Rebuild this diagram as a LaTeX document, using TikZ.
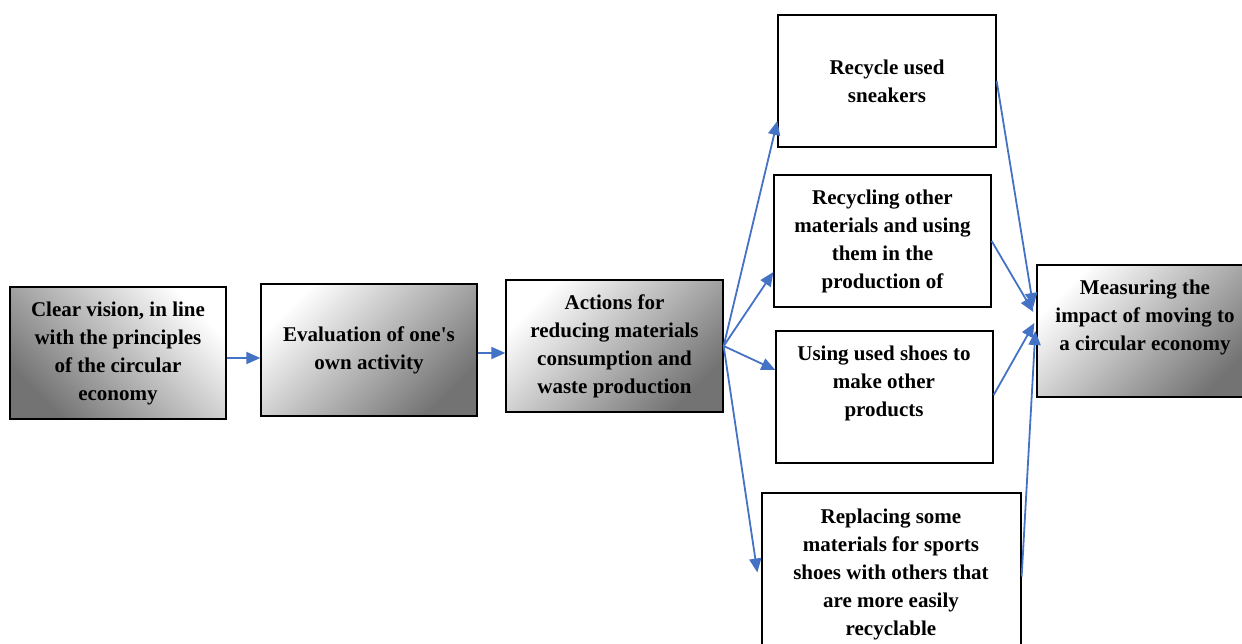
\documentclass[tikz,border=0pt]{standalone}
\usepackage{fontspec}
\setmainfont{Liberation Serif}
\usetikzlibrary{arrows.meta}
\definecolor{linkblue}{HTML}{4472C4}

\begin{document}
\begin{tikzpicture}[x=1pt, y=-1pt,
  box/.style={draw, line width=1.3pt, minimum width=216pt, minimum height=132pt, inner sep=0pt},
  shaded/.style={top color=white, middle color=black!16, bottom color=black!55, shading angle=#1},
  txt/.style={align=center, font=\fontsize{21}{28}\selectfont\bfseries, inner sep=0pt},
  link/.style={draw=linkblue, line width=1.8pt, -{Triangle[length=14pt,width=12pt]}}]
\useasboundingbox (0,0) rectangle (1242,644);
\node[box, shaded=-45, txt] (A) at (118,353) {Clear vision, in line\\with the principles\\of the circular\\economy};
\node[box, shaded=45, txt] (B) at (369,350) {Evaluation of one\textquotesingle s\\own activity};
\node[box, shaded=45, txt, minimum width=217pt] (C) at (614.5,346) {Actions for\\reducing materials\\consumption and\\waste production};
\node[box, txt, minimum width=218pt] (D) at (887,81) {Recycle used\\sneakers};
\node[box, txt, minimum width=217pt] (E) at (882.5,241) {Recycling other\\materials and using\\them in the\\production of};
\node[box, minimum width=217pt] (F) at (884.5,397) {};
\node[txt] (Ftext) at (884,383) {Using used shoes to\\make other\\products};
\node[box, minimum width=259pt, minimum height=167pt] (G) at (891.5,576.5) {};
\node[txt] (Gtext) at (891,574) {Replacing some\\materials for sports\\shoes with others that\\are more easily\\recyclable};
\node[box, shaded=45, minimum width=217pt] (H) at (1145.5,331) {};
\node[txt] (Htext) at (1145,317) {Measuring the\\impact of moving to\\a circular economy};
\draw[link] ([yshift=-5pt]A.east) -- ([yshift=-5pt]A.east -| B.west);
\draw[link] ([yshift=-3pt]B.east) -- ([yshift=-3pt]B.east -| C.west);
\draw[link] (C.east) -- ([yshift=-40pt]D.west);
\draw[link] (C.east) -- ([yshift=-31pt]E.west);
\draw[link] (C.east) -- ([yshift=27pt]F.west);
\draw[link] (C.east) -- ([xshift=-4pt,yshift=4pt]G.west);
\draw[link] (D.east) -- ([xshift=-3pt,yshift=24pt]H.west);
\draw[link] (E.east) -- ([xshift=-3pt,yshift=19pt]H.west);
\draw[link] ([yshift=2pt]F.east) -- ([xshift=-2pt,yshift=8pt]H.west);
\draw[link] (G.east) -- ([xshift=-1pt]H.west);
\end{tikzpicture}
\end{document}
